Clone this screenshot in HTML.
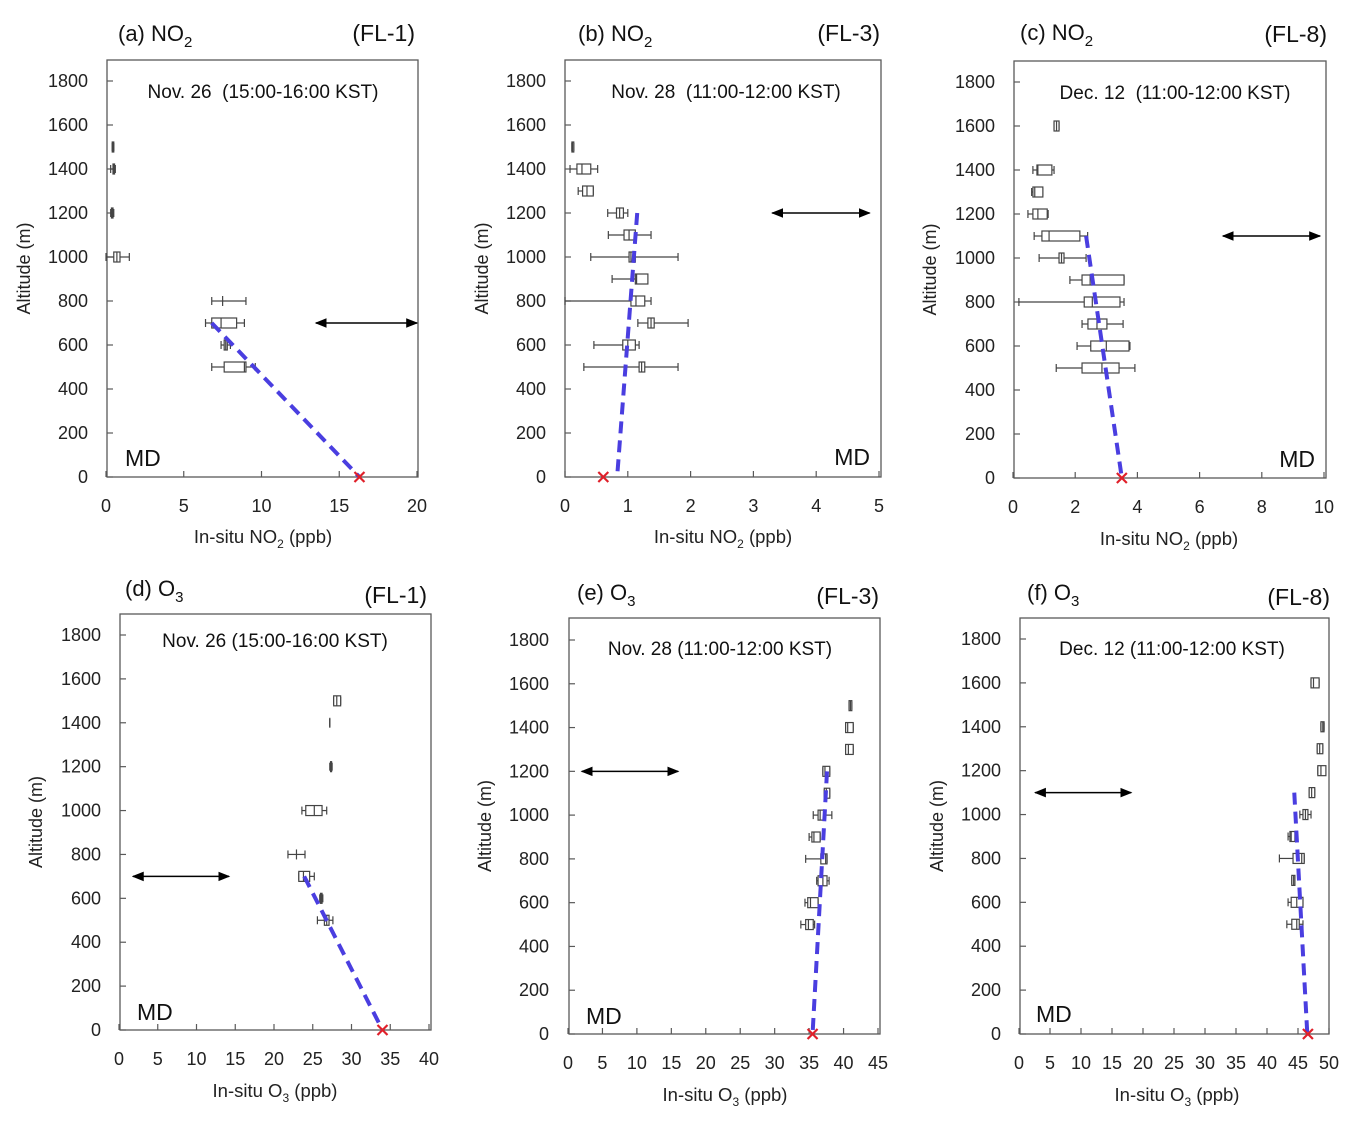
<!DOCTYPE html>
<html><head><meta charset="utf-8">
<style>
html,body{margin:0;padding:0;background:#fff;}
svg{display:block;font-family:"Liberation Sans",Arial,sans-serif;}
.pre{white-space:pre;}
</style></head>
<body>
<svg id="fig" width="1357" height="1122" viewBox="0 0 1357 1122"></svg>
<script>
// ---- data ----
const aAlt=[1500,1400,1200,1000,800,700,600,500];
const aLo=[0.4,0.3,0.3,0,6.8,6.4,7.4,6.8];
const aQ1=[0.4,0.45,0.35,0.5,7.5,6.8,7.6,7.6];
const aMed=[0.45,0.5,0.4,0.7,7.5,7.4,7.7,8.9];
const aQ3=[0.5,0.55,0.45,0.9,7.5,8.4,7.8,9.0];
const aHi=[0.5,0.6,0.5,1.5,9.0,8.9,8.0,9.6];

const bAlt=[1500,1400,1300,1200,1100,1000,900,800,700,600,500];
const bLo=[0.11,0.08,0.21,0.68,0.69,0.41,0.75,0,1.16,0.46,0.3];
const bQ1=[0.11,0.19,0.28,0.82,0.94,1.02,1.12,1.05,1.32,0.92,1.18];
const bMed=[0.12,0.27,0.35,0.87,1.02,1.05,1.14,1.13,1.37,1.0,1.22];
const bQ3=[0.14,0.41,0.45,0.93,1.12,1.12,1.32,1.27,1.42,1.12,1.27];
const bHi=[0.14,0.52,0.45,1.0,1.37,1.8,1.15,1.37,1.96,1.18,1.8];

const cAlt=[1600,1400,1300,1200,1100,1000,900,800,700,600,500];
const cLo=[1.32,0.64,0.6,0.48,0.68,0.84,1.83,0.19,2.22,2.06,1.39];
const cQ1=[1.32,0.77,0.64,0.64,0.93,1.48,2.22,2.29,2.41,2.5,2.22];
const cMed=[1.4,0.8,0.7,0.8,1.16,1.56,2.48,2.55,2.7,3.0,2.86];
const cQ3=[1.48,1.25,0.96,1.1,2.15,1.64,3.57,3.44,3.02,3.73,3.41];
const cHi=[1.48,1.32,0.96,1.13,2.4,2.35,3.57,3.57,3.54,3.76,3.92];

const dAlt=[1500,1400,1200,1000,800,700,600,500];
const dLo=[27.7,27.2,27.2,23.6,21.8,23.2,25.9,25.6];
const dQ1=[27.7,27.2,27.3,24.1,22.9,23.2,26.0,26.5];
const dMed=[28.1,27.2,27.35,25.2,22.9,23.8,26.1,26.8];
const dQ3=[28.6,27.2,27.4,26.2,22.9,24.6,26.2,27.1];
const dHi=[28.6,27.2,27.5,26.8,24.0,25.2,26.3,27.6];

const eAlt=[1500,1400,1300,1200,1100,1000,900,800,700,600,500];
const eLo=[40.8,40.3,40.3,37.0,37.2,35.6,35.0,34.5,36.1,34.4,33.8];
const eQ1=[40.8,40.3,40.3,37.0,37.2,36.3,35.4,36.7,36.3,34.8,34.5];
const eMed=[41.0,40.6,40.7,37.3,37.5,36.6,35.7,37.4,37.0,35.2,34.9];
const eQ3=[41.2,41.4,41.4,38.0,38.0,37.2,36.6,37.6,37.6,36.3,35.6];
const eHi=[41.2,41.4,41.4,38.0,38.0,38.3,36.6,37.6,37.9,36.3,35.8];

const fAlt=[1600,1400,1300,1200,1100,1000,900,800,700,600,500];
const fLo=[47.1,48.7,48.1,48.2,46.8,45.3,43.4,42.0,44.0,43.4,43.2];
const fQ1=[47.1,48.7,48.1,48.2,46.8,45.8,43.7,44.2,44.0,43.9,44.0];
const fMed=[47.5,49.0,48.5,48.7,47.2,46.2,43.9,45.6,44.3,44.8,44.8];
const fQ3=[48.4,49.2,49.0,49.5,47.7,46.6,44.5,46.0,44.5,45.8,45.2];
const fHi=[48.4,49.2,49.0,49.5,47.7,47.1,44.5,46.0,44.5,45.8,45.8];

const fitTopX=[6.8,1.15,2.35,23.9,37.6,44.4];
const fitTopAlt=[700,1200,1100,700,1200,1100];
const fitBotX=[16.3,0.83,3.5,34.0,35.5,46.5];
const refX=[16.3,0.61,3.5,34.0,35.5,46.6];
const arrowLo=[13.5,3.3,6.75,1.8,2.0,2.6];
const arrowHi=[20,4.85,9.87,14.2,16.0,18.1];
const arrowAlt=[700,1200,1100,700,1200,1100];
const xMaxes=[20,5,10,40,45,50];
const xSteps=[5,1,2,5,5,5];
const yTicks=[0,200,400,600,800,1000,1200,1400,1600,1800];

const panels=[
 {id:'a',L:107,T:60,R:418,B:477,x0:106,x1:417,y0:477,y18:81,lab:88,yl:30,title:['(a) NO','2'],tx:118,ty:41,fl:'(FL-1)',flx:415,fly:41,date:'Nov. 26  (15:00-16:00 KST)',dx:263,dy:98,md:'l',mdx:125,mdy:466,xl:'NO',xlx:263,xly:543,data:[aAlt,aLo,aQ1,aMed,aQ3,aHi]},
 {id:'b',L:565,T:60,R:881,B:477,x0:565,x1:879,y0:477,y18:81,lab:546,yl:488,title:['(b) NO','2'],tx:578,ty:41,fl:'(FL-3)',flx:880,fly:41,date:'Nov. 28  (11:00-12:00 KST)',dx:726,dy:98,md:'r',mdx:870,mdy:465,xl:'NO',xlx:723,xly:543,data:[bAlt,bLo,bQ1,bMed,bQ3,bHi]},
 {id:'c',L:1014,T:61,R:1326,B:478,x0:1013,x1:1324,y0:478,y18:82,lab:995,yl:936,title:['(c) NO','2'],tx:1020,ty:40,fl:'(FL-8)',flx:1327,fly:42,date:'Dec. 12  (11:00-12:00 KST)',dx:1175,dy:99,md:'r',mdx:1315,mdy:467,xl:'NO',xlx:1169,xly:545,data:[cAlt,cLo,cQ1,cMed,cQ3,cHi]},
 {id:'d',L:120,T:614,R:431,B:1030,x0:119,x1:429,y0:1030,y18:635,lab:101,yl:42,title:['(d) O','3'],tx:125,ty:596,fl:'(FL-1)',flx:427,fly:603,date:'Nov. 26 (15:00-16:00 KST)',dx:275,dy:647,md:'l',mdx:137,mdy:1020,xl:'O',xlx:275,xly:1097,data:[dAlt,dLo,dQ1,dMed,dQ3,dHi]},
 {id:'e',L:569,T:618,R:880,B:1034,x0:568,x1:878,y0:1034,y18:640,lab:549,yl:491,title:['(e) O','3'],tx:577,ty:600,fl:'(FL-3)',flx:879,fly:604,date:'Nov. 28 (11:00-12:00 KST)',dx:720,dy:655,md:'l',mdx:586,mdy:1024,xl:'O',xlx:725,xly:1101,data:[eAlt,eLo,eQ1,eMed,eQ3,eHi]},
 {id:'f',L:1020,T:618,R:1329,B:1034,x0:1019,x1:1329,y0:1034,y18:639,lab:1001,yl:943,title:['(f) O','3'],tx:1027,ty:600,fl:'(FL-8)',flx:1330,fly:605,date:'Dec. 12 (11:00-12:00 KST)',dx:1172,dy:655,md:'l',mdx:1036,mdy:1022,xl:'O',xlx:1177,xly:1101,data:[fAlt,fLo,fQ1,fMed,fQ3,fHi]}
];
const NS='http://www.w3.org/2000/svg';
const svg=document.getElementById('fig');
const defs=document.createElementNS(NS,'defs');
defs.innerHTML='<marker id="ah" viewBox="0 0 10 10" refX="9" refY="5" markerWidth="12" markerHeight="12" markerUnits="userSpaceOnUse" orient="auto-start-reverse"><path d="M0,1 L10,5 L0,9 z" fill="#000"/></marker>';
svg.appendChild(defs);
function el(tag,attrs,parent){const e=document.createElementNS(NS,tag);for(const k in attrs)e.setAttribute(k,attrs[k]);(parent||svg).appendChild(e);return e;}

panels.forEach((p,i)=>{
  const g=el('g',{});
  
  
  const xmax=xMaxes[i];
  const X=v=>p.x0+(p.x1-p.x0)*v/xmax;
  const Y=a=>p.y0-(p.y0-p.y18)*a/1800;
  const frame=el('rect',{x:p.L,y:p.T,width:p.R-p.L,height:p.B-p.T,fill:'none',stroke:'#595959','stroke-width':1.3},g);
  
  
  yTicks.forEach(t=>{
    const yy=Y(t);
    el('line',{x1:p.L,x2:p.L+6,y1:yy,y2:yy,stroke:'#595959','stroke-width':1.2},g);
    const tl=el('text',{x:p.lab,y:yy+6,'text-anchor':'end','font-size':18,fill:'#222'},g);
    tl.textContent=t;
    
    
  });
  for(let v=0;v<=xmax+1e-9;v+=xSteps[i]){
    const xx=X(v);
    el('line',{x1:xx,x2:xx,y1:p.B,y2:p.B-6,stroke:'#595959','stroke-width':1.2},g);
    const tl=el('text',{x:xx,y:p.B+35,'text-anchor':'middle','font-size':18,fill:'#222'},g);
    tl.textContent=v;
    
    
  }
  const yt=el('text',{x:p.yl,y:(p.T+p.B)/2,'text-anchor':'middle','font-size':18,fill:'#222',transform:'rotate(-90 '+p.yl+' '+((p.T+p.B)/2)+')'},g);
  yt.textContent='Altitude (m)';
  
  
  const xt=el('text',{x:p.xlx,y:p.xly,'text-anchor':'middle','font-size':18.5,fill:'#222'},g);
  xt.innerHTML='In-situ '+p.xl+'<tspan font-size="12" dy="5">'+(p.xl==='NO'?'2':'3')+'</tspan><tspan dy="-5"> (ppb)</tspan>';
  
  
  const tt=el('text',{x:p.tx,y:p.ty,'font-size':22,fill:'#111'},g);
  tt.innerHTML=p.title[0]+'<tspan font-size="15" dy="6">'+p.title[1]+'</tspan>';
  
  
  const ft=el('text',{x:p.flx,y:p.fly,'text-anchor':'end','font-size':23,fill:'#111'},g);
  ft.textContent=p.fl;
  
  
  const dt=el('text',{x:p.dx,y:p.dy,'text-anchor':'middle','font-size':19,fill:'#111','class':'pre'},g);
  dt.textContent=p.date;
  
  
  const mt=el('text',{x:p.mdx,y:p.mdy,'text-anchor':p.md==='l'?'start':'end','font-size':23,fill:'#111'},g);
  mt.textContent='MD';
  
  
  const [alt,lo,q1,med,q3,hi]=p.data;
  alt.forEach((a,k)=>{
    const yy=Y(a);
    const bg=el('g',{stroke:'#444','stroke-width':1.2,fill:'none'},g);
    
    
    el('line',{x1:X(lo[k]),x2:X(q1[k]),y1:yy,y2:yy},bg);
    el('line',{x1:X(q3[k]),x2:X(hi[k]),y1:yy,y2:yy},bg);
    el('line',{x1:X(lo[k]),x2:X(lo[k]),y1:yy-4,y2:yy+4},bg);
    el('line',{x1:X(hi[k]),x2:X(hi[k]),y1:yy-4,y2:yy+4},bg);
    if(q3[k]>q1[k]) el('rect',{x:X(q1[k]),y:yy-5,width:Math.max(1,X(q3[k])-X(q1[k])),height:10,fill:'#fff'},bg);
    el('line',{x1:X(med[k]),x2:X(med[k]),y1:yy-5,y2:yy+5},bg);
  });
  const fl=el('line',{x1:X(fitTopX[i]),y1:Y(fitTopAlt[i]),x2:X(fitBotX[i]),y2:Y(0),stroke:'#4a3ee0','stroke-width':4,'stroke-dasharray':'12,7'},g);
  
  
  const rx=X(refX[i]),ry=Y(0);
  const xm=el('path',{d:`M${rx-5},${ry-5}L${rx+5},${ry+5}M${rx-5},${ry+5}L${rx+5},${ry-5}`,stroke:'#e0202a','stroke-width':2.2,fill:'none'},g);
  
  
  const ay=Y(arrowAlt[i]);
  const ar=el('line',{x1:X(arrowLo[i]),x2:X(arrowHi[i]),y1:ay,y2:ay,stroke:'#000','stroke-width':1.5,'marker-start':'url(#ah)','marker-end':'url(#ah)'},g);
  
  
});
</script>
</body></html>
